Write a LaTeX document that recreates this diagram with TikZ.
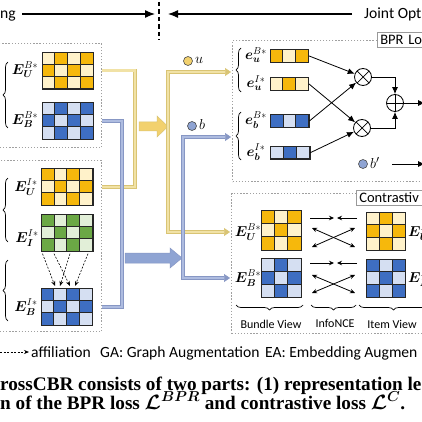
\documentclass[tikz,border=0pt]{standalone}
\usepackage{amsmath,bm}
\usepackage{fontspec}
\setsansfont{Carlito}
\newfontfamily\capfont{Liberation Serif}
\usetikzlibrary{arrows.meta,decorations.pathreplacing,calc}
\definecolor{ydark}{HTML}{F6B80C}
\definecolor{ylight}{HTML}{FFF2CA}
\definecolor{bdark}{HTML}{3E6EC2}
\definecolor{blight}{HTML}{D5DFF2}
\definecolor{gdark}{HTML}{6BA845}
\definecolor{glight}{HTML}{E2EFD8}
\definecolor{yline}{HTML}{F1E2A6}
\definecolor{yedge}{HTML}{D9C474}
\definecolor{bline}{HTML}{AEBCE0}
\definecolor{bedge}{HTML}{8797C4}
\definecolor{yfat}{HTML}{F2D16E}
\definecolor{bfat}{HTML}{8FA4D3}
\definecolor{dotgray}{HTML}{A0A0A0}
\newcommand\setcells[2]{\colorlet{cell0}{#1}\colorlet{cell1}{#2}}
\newcommand\mygrid[8]{%
  \foreach \row [count=\ii] in {#8} {
    \foreach \dd [count=\jj] in \row {
      \filldraw[gridcell, fill=cell\dd] ({#2+(\jj-1)*#4},{#3+(\ii-1)*#5}) rectangle ++(#4,#5);
    }
  }
  \node[gridframe, minimum width={#6*#4}, minimum height={#7*#5}, anchor=north west] (#1) at (#2,#3) {};
}
\tikzset{
  gridcell/.style={draw=black!85,line width=0.7pt},
  gridframe/.style={draw=black!85,line width=0.8pt,inner sep=0pt},
  dotbox/.style={draw=dotgray,line width=1.3pt,dash pattern=on 1.3pt off 1.8pt,inner sep=0pt,anchor=north west},
  labbox/.style={draw=gray!80,fill=white,line width=0.6pt,font=\sffamily\fontsize{14.5}{15}\selectfont,inner xsep=3pt,inner ysep=0pt,minimum height=15pt,text width=80pt,align=left,anchor=north west},
  yc/.style={draw=yedge,double=yline,double distance=2.4pt,line width=0.6pt},
  bc/.style={draw=bedge,double=bline,double distance=2.4pt,line width=0.6pt},
  ytip/.style={-{Triangle[length=6pt,width=8pt]}},
  mlab/.style={font=\fontsize{14.5}{16}\selectfont,inner sep=0pt},
  lbrace/.style={decorate,decoration={brace,amplitude=5pt},line width=0.7pt},
  bbrace/.style={decorate,decoration={brace,amplitude=5pt,mirror},line width=0.7pt},
  toparrow/.style={line width=1.2pt,-{Latex[length=10pt,width=8pt]}},
  bprarrow/.style={line width=0.8pt,-{Latex[length=7pt,width=6pt]}},
  carrow/.style={line width=0.8pt,-{Stealth[length=5pt,width=4.5pt]}},
  cdarrow/.style={line width=0.8pt,{Stealth[length=5pt,width=4.5pt]}-{Stealth[length=5pt,width=4.5pt]}},
  affil/.style={line width=0.6pt,dash pattern=on 2pt off 1.5pt,-{Stealth[length=5pt,width=4pt]}},
  opnode/.style={circle,draw,line width=0.8pt,minimum size=17pt,inner sep=0pt,fill=white},
  dotnode/.style={circle,draw=black!70,line width=0.6pt,minimum size=9pt,inner sep=0pt},
  sflab/.style={font=\sffamily\fontsize{12}{13}\selectfont,inner sep=0pt},
  legtext/.style={font=\sffamily\fontsize{15.6}{17}\selectfont,inner sep=0pt,anchor=base west},
  captext/.style={font=\capfont\bfseries\boldmath\fontsize{19.2}{21}\selectfont,inner sep=0pt,anchor=base west},
}
\begin{document}
\begin{tikzpicture}[x=1pt,y=-1pt]
\useasboundingbox (0,0) rectangle (422,422);
\clip (0,0) rectangle (422,422);
\fill[white] (0,0) rectangle (422,422);

% ---------- top row ----------
\node[anchor=base west,inner sep=0pt,font=\sffamily\fontsize{15.6}{17}\selectfont] (tl) at (0,19) {ng};
\node[anchor=base west,inner sep=0pt,font=\sffamily\fontsize{15.6}{17}\selectfont] (tr) at (364,19) {Joint Opt};
\coordinate (a1s) at (22,14); \coordinate (a1e) at (155,14);
\coordinate (a2s) at (352,14); \coordinate (a2e) at (168,14);
\draw[toparrow] (a1s) -- (a1e);
\draw[toparrow] (a2s) -- (a2e);
\coordinate (dvt) at (159,2); \coordinate (dvb) at (159,40);
\draw[line width=1.4pt,dash pattern=on 4.5pt off 3pt] (dvt) -- (dvb);

% ---------- boxes ----------
\node[dotbox,minimum width=111pt,minimum height=104pt] (box1) at (-10,43) {};
\node[dotbox,minimum width=111pt,minimum height=171pt] (box2) at (-10,160) {};
\node[dotbox,minimum width=200pt,minimum height=141pt] (bprbox) at (232,40) {};
\node[dotbox,minimum width=200pt,minimum height=140pt] (conbox) at (231,193) {};
\node[labbox] (bprlab) at (377,32) {BPR Lo};
\node[labbox] (conlab) at (356,190) {Contrastiv};

% ---------- left matrices ----------
\setcells{ylight}{ydark}
\mygrid{mUB}{42}{52}{12.75}{12.2}{4}{3}{{0,1,0,1},{1,0,1,0},{0,1,0,1}}
\setcells{blight}{bdark}
\mygrid{mBB}{42}{102}{12.75}{12.3}{4}{3}{{0,1,0,1},{1,0,1,0},{0,1,0,1}}
\setcells{ylight}{ydark}
\mygrid{mUI}{41}{168}{12.9}{12.3}{4}{3}{{1,0,1,0},{0,1,0,1},{1,0,1,0}}
\setcells{glight}{gdark}
\mygrid{mII}{41}{214}{12.9}{12.3}{4}{3}{{1,0,1,0},{0,1,0,1},{1,0,1,0}}
\setcells{blight}{bdark}
\mygrid{mBI}{41}{288}{12.75}{12.3}{4}{3}{{1,0,1,0},{0,1,0,1},{1,0,1,0}}

\node[mlab] (lUB) at (25,70) {$\bm{E}_{\bm{U}}^{B*}$};
\node[mlab] (lBB) at (25,120) {$\bm{E}_{\bm{B}}^{B*}$};
\node[mlab] (lUI) at (26,187) {$\bm{E}_{\bm{U}}^{I*}$};
\node[mlab] (lII) at (27,238) {$\bm{E}_{\bm{I}}^{I*}$};
\node[mlab] (lBI) at (26,307) {$\bm{E}_{\bm{B}}^{I*}$};
\draw[lbrace] (8,128) -- (8,62);
\draw[lbrace] (8,242) -- (8,178);
\draw[lbrace] (8,321) -- (8,260);

\draw[affil] ([xshift=1.5pt,yshift=-2pt]mII.south west) -- ([xshift=14pt,yshift=2pt]mBI.north west);
\draw[affil] ([xshift=13pt,yshift=-2pt]mII.south west) -- ([xshift=29pt,yshift=2pt]mBI.north west);
\draw[affil] ([xshift=29pt,yshift=-2pt]mII.south west) -- ([xshift=19pt,yshift=2pt]mBI.north west);
\draw[affil] ([xshift=47pt,yshift=-2pt]mII.south west) -- ([xshift=34pt,yshift=2pt]mBI.north west);

% ---------- connectors ----------
\coordinate (yk) at (135,0);
\coordinate (bk) at (122,0);
\draw[yc] (box1.east |- mUB) -| (yk |- mUI) -- (box2.east |- mUI);
\draw[bc] (box1.east |- mBB) -| (bk |- mBI) -- (box2.east |- mBI);

\filldraw[fill=yfat,draw=yedge,line width=0.5pt] (139,122) -- (157,122) -- (157,116) -- (168,126.5) -- (157,137) -- (157,131) -- (139,131) -- cycle;
\filldraw[fill=bfat,draw=bedge,line width=0.5pt] (125,253) -- (170,253) -- (170,248) -- (182,258) -- (170,268) -- (170,263) -- (125,263) -- cycle;

\coordinate (yf) at (168,126.5);
\coordinate (bf) at (183,258);
\coordinate (uin) at (231,72);
\coordinate (bin) at (231,137);
\coordinate (cuin) at (230,232);
\coordinate (cbin) at (230,278);
\draw[yc,ytip] (yf) |- (uin);
\draw[yc,ytip] (yf) |- (cuin);
\draw[bc,ytip] (bf) |- (bin);
\draw[bc,ytip] (bf) |- (cbin);

\node[dotnode,fill=yfat] (ucirc) at (188,61) {};
\node[anchor=west,inner sep=0pt,font=\fontsize{15.5}{16}\selectfont] (ulab) at (195,60) {$u$};
\node[dotnode,fill=bfat] (bcirc) at (192,126) {};
\node[anchor=west,inner sep=0pt,font=\fontsize{15.5}{16}\selectfont] (blab) at (199,125) {$b$};

% ---------- BPR ----------
\setcells{ylight}{ydark}
\mygrid{vuB}{270}{49}{12.7}{13}{3}{1}{{1,0,1}}
\mygrid{vuI}{270}{77}{12.7}{13}{3}{1}{{0,1,0}}
\setcells{blight}{bdark}
\mygrid{vbB}{270}{114}{12.9}{13}{3}{1}{{1,0,1}}
\mygrid{vbI}{270}{146}{13.2}{12.5}{3}{1}{{0,1,0}}
\node[mlab] (luB) at (256,55) {$\bm{e}_{\bm{u}}^{B*}$};
\node[mlab] (luI) at (256,83) {$\bm{e}_{\bm{u}}^{I*}$};
\node[mlab] (lbB) at (256,120) {$\bm{e}_{\bm{b}}^{B*}$};
\node[mlab] (lbI) at (256,152) {$\bm{e}_{\bm{b}}^{I*}$};
\draw[lbrace] (241,92) -- (241,48);
\draw[lbrace] (241,160) -- (241,112);

\node[opnode,path picture={\draw[line width=0.7pt] (path picture bounding box.north west) -- (path picture bounding box.south east) (path picture bounding box.north east) -- (path picture bounding box.south west);}] (o1) at (363,77) {};
\node[opnode,path picture={\draw[line width=0.7pt] (path picture bounding box.north west) -- (path picture bounding box.south east) (path picture bounding box.north east) -- (path picture bounding box.south west);}] (o2) at (362,128) {};
\node[opnode,path picture={\draw[line width=0.7pt] (path picture bounding box.north) -- (path picture bounding box.south) (path picture bounding box.east) -- (path picture bounding box.west);}] (op) at (395,103) {};
\draw[bprarrow] (vuB.east) -- (o1);
\draw[bprarrow] (vbB.east) -- (o1);
\draw[bprarrow] (vuI.east) -- (o2);
\draw[bprarrow] (vbI.east) -- (o2);
\draw[bprarrow] (o1.east) -| (op.north);
\draw[bprarrow] (o2.east) -| (op.south);
\coordinate (opout) at (425,103);
\draw[bprarrow] (op.east) -- (opout);
\node[dotnode,fill=bfat] (bpc) at (363,164) {};
\node[anchor=west,inner sep=0pt,font=\fontsize{15.5}{16}\selectfont] (bplab) at (370,163) {$b'$};
\coordinate (bps) at (392,164); \coordinate (bpe) at (425,164);
\draw[bprarrow] (bps) -- (bpe);

% ---------- contrastive ----------
\setcells{ylight}{ydark}
\mygrid{cUB}{261}{210}{13.4}{13.3}{3}{3}{{1,0,1},{0,1,0},{1,0,1}}
\mygrid{cUI}{366}{212}{13.1}{12.8}{3}{3}{{0,1,0},{1,0,1},{0,1,0}}
\setcells{blight}{bdark}
\mygrid{cBB}{261}{258}{13.4}{13}{3}{3}{{0,1,0},{1,0,1},{0,1,0}}
\mygrid{cBI}{366}{259}{13.1}{12.7}{3}{3}{{1,0,1},{0,1,0},{1,0,1}}
\node[mlab] (clUB) at (248,232) {$\bm{E}_{\bm{U}}^{B*}$};
\node[mlab] (clBB) at (248,278) {$\bm{E}_{\bm{B}}^{B*}$};
\node[mlab,anchor=west] (clUI) at (408,232) {$\bm{E}_{\bm{U}}^{I*}$};
\node[mlab,anchor=west] (clBI) at (408,278) {$\bm{E}_{\bm{B}}^{I*}$};

\coordinate (r1a) at (310,218); \coordinate (r1b) at (334,218);
\coordinate (r1c) at (357,218); \coordinate (r1d) at (337,218);
\draw[carrow] (r1a) -- (r1b); \draw[carrow] (r1c) -- (r1d);
\coordinate (x1a) at (312,228); \coordinate (x1b) at (355,247);
\coordinate (x1c) at (355,228); \coordinate (x1d) at (312,247);
\draw[cdarrow] (x1a) -- (x1b); \draw[cdarrow] (x1c) -- (x1d);
\coordinate (r2a) at (310,263); \coordinate (r2b) at (334,263);
\coordinate (r2c) at (357,263); \coordinate (r2d) at (337,263);
\draw[carrow] (r2a) -- (r2b); \draw[carrow] (r2c) -- (r2d);
\coordinate (x2a) at (312,275); \coordinate (x2b) at (355,293);
\coordinate (x2c) at (355,275); \coordinate (x2d) at (312,293);
\draw[cdarrow] (x2a) -- (x2b); \draw[cdarrow] (x2c) -- (x2d);

\draw[bbrace] (236,305) -- (303,305);
\draw[bbrace] (311,305) -- (356,305);
\draw[bbrace] (359,305) -- (428,305);
\node[sflab] (bv) at (271,324) {Bundle View};
\node[sflab] (inf) at (335,323) {InfoNCE};
\node[sflab] (iv) at (392,324) {Item View};

% ---------- legend ----------
\coordinate (lgs) at (0,352); \coordinate (lge) at (29,352);
\draw[affil,line width=0.7pt] (lgs) -- (lge);
\node[legtext] (lg1) at (31,357) {affiliation};
\node[legtext] (lg2) at (100,357) {GA: Graph Augmentation};
\node[legtext] (lg3) at (265,357) {EA: Embedding Augmen};

% ---------- caption ----------
\node[captext] (c1) at (0,390) {rossCBR consists of two parts: (1) representation le};
\node[captext] (c2) at (0,409) {n of the BPR loss $\mathcal{L}^{BPR}$ and contrastive loss $\mathcal{L}^{C}$.};
\end{tikzpicture}
\end{document}
